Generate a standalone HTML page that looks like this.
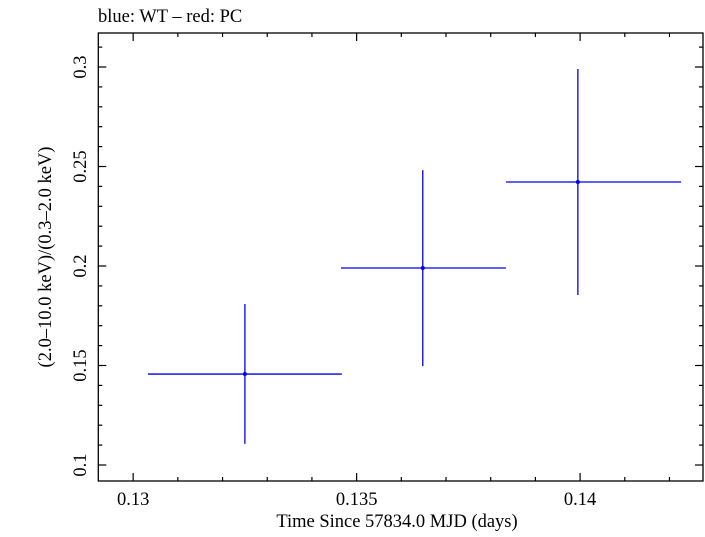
<!DOCTYPE html>
<html><head><meta charset="utf-8"><style>
html,body{margin:0;padding:0;background:#fff;}
svg text{font-family:"Liberation Serif",serif;fill:#000;}
</style></head><body>
<svg id="chart" width="705" height="532" xmlns="http://www.w3.org/2000/svg">
<text x="98" y="22" font-size="18.5">blue: WT – red: PC</text>
<rect x="98.3" y="33" width="604.7" height="448" fill="none" stroke="#000" stroke-width="1.3"/>
<g id="ticks"></g>
<g id="marks"></g>
<text x="397" y="527" font-size="18.5" text-anchor="middle">Time Since 57834.0 MJD (days)</text>
<text transform="translate(51,257) rotate(-90)" font-size="18.5" text-anchor="middle">(2.0–10.0 keV)/(0.3–2.0 keV)</text>
</svg>
<script>
const xCenters=[0.1325,0.13648,0.13995];
const xLo=[0.13033,0.13465,0.13834];
const xHi=[0.13467,0.13834,0.14226];
const yValues=[0.1457,0.199,0.2422];
const yLo=[0.1106,0.1497,0.1854];
const yHi=[0.1809,0.2482,0.2990];
const xTickLabels=["0.13","0.135","0.14"];
const yTickLabels=["0.1","0.15","0.2","0.25","0.3"];
const X0=98.3,X1=703,Y0=481,Y1=33;
const xMin=0.12922,xMax=0.14275,yMin=0.09196,yMax=0.31709;
const sx=v=>X0+(v-xMin)/(xMax-xMin)*(X1-X0);
const sy=v=>Y0-(v-yMin)/(yMax-yMin)*(Y0-Y1);
const NS="http://www.w3.org/2000/svg";
const tg=document.getElementById('ticks'),mg=document.getElementById('marks');
function line(g,x1,y1,x2,y2,c,w){const l=document.createElementNS(NS,'line');l.setAttribute('x1',x1);l.setAttribute('y1',y1);l.setAttribute('x2',x2);l.setAttribute('y2',y2);l.setAttribute('stroke',c);l.setAttribute('stroke-width',w);g.appendChild(l);return l;}
for(let i=130;i<=142;i++){const v=i/1000;const x=sx(v);const major=i%5===0;const L=major?8:4;
const a=line(tg,x,Y0,x,Y0-L,'#000',1.2);


const b=line(tg,x,Y1,x,Y1+L,'#000',1.2);

}
xTickLabels.forEach(s=>{const t=document.createElementNS(NS,'text');t.setAttribute('x',sx(parseFloat(s)));t.setAttribute('y',505);t.setAttribute('font-size','18.5');t.setAttribute('text-anchor','middle');t.textContent=s;


tg.appendChild(t);});
for(let i=10;i<=31;i++){const v=i/100;const y=sy(v);const major=i%5===0;const L=major?8:4;
const a=line(tg,X0,y,X0+L,y,'#000',1.2);


const b=line(tg,X1,y,X1-L,y,'#000',1.2);

}
yTickLabels.forEach(s=>{const t=document.createElementNS(NS,'text');t.setAttribute('transform','translate(86,'+sy(parseFloat(s))+') rotate(-90)');t.setAttribute('font-size','18.5');t.setAttribute('text-anchor','middle');t.textContent=s;


tg.appendChild(t);});
xCenters.forEach((xc,i)=>{
const h=line(mg,sx(xLo[i]),sy(yValues[i]),sx(xHi[i]),sy(yValues[i]),'#0000ee',1.3);


const v=line(mg,sx(xc),sy(yLo[i]),sx(xc),sy(yHi[i]),'#0000ee',1.3);


const c=document.createElementNS(NS,'circle');c.setAttribute('cx',sx(xc));c.setAttribute('cy',sy(yValues[i]));c.setAttribute('r',2);c.setAttribute('fill','#0000ee');


mg.appendChild(c);});
</script>
</body></html>
